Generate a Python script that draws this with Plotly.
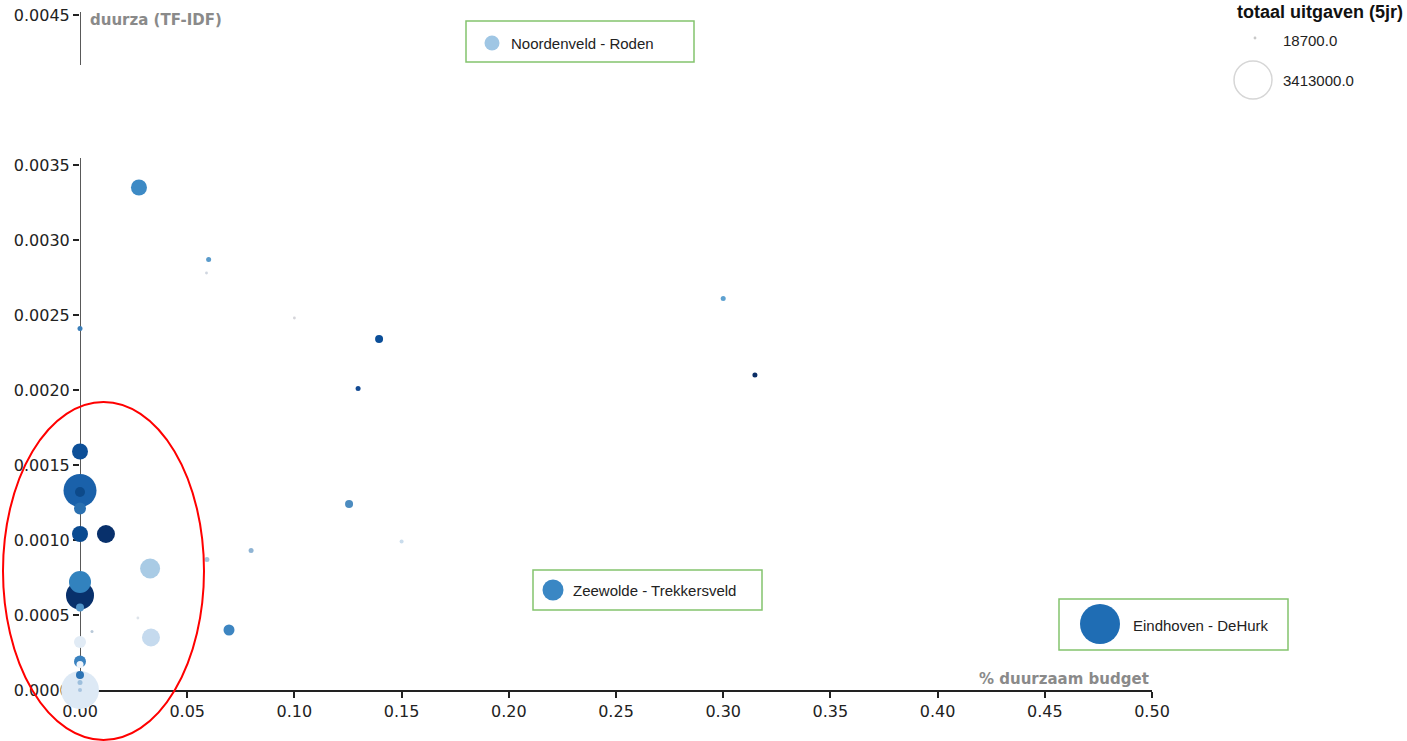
import numpy as np
import plotly.graph_objects as go

# ---------------- data ----------------
duurzaam_budget = [0.0275, 0.060, 0.059, 0.100, 0.000, 0.1395, 0.1297, 0.300, 0.3148,
                   0.1255, 0.150, 0.0798, 0.0592, 0.0695, 0.0327, 0.0331, 0.0121,
                   0.000, 0.000, 0.000, 0.000, 0.000, 0.000, 0.000, 0.000, 0.0056,
                   0.000, 0.000, 0.000, 0.000, 0.000, 0.000, 0.000, 0.027]
duurza_tfidf = [0.00335, 0.00287, 0.00278, 0.00248, 0.00241, 0.00234, 0.00201, 0.00261, 0.00210,
                0.00124, 0.00099, 0.00093, 0.00087, 0.00040, 0.00081, 0.00035, 0.00104,
                0.00104, 0.00159, 0.00133, 0.00132, 0.00121, 0.00072, 0.00063, 0.00055, 0.00039,
                0.00032, 0.00019, 0.00017, 0.00010, 0.00005, 0.00000, 0.00000, 0.00048]
totaal_uitgaven = [605000, 59000, 18700, 18700, 59000, 151000, 59000, 59000, 59000,
                   151000, 38000, 59000, 59000, 286000, 945000, 766000, 766000,
                   605000, 605000, 2574000, 236000, 340000, 1144000, 1853000, 151000, 21300,
                   340000, 340000, 116000, 151000, 59000, 3413000, 38000, 18700]
legend_sizes = [18700, 3413000]
legend_labels = ["18700.0", "3413000.0"]
x_ticks = [0.00, 0.05, 0.10, 0.15, 0.20, 0.25, 0.30, 0.35, 0.40, 0.45, 0.50]
y_ticks = [0.0000, 0.0005, 0.0010, 0.0015, 0.0020, 0.0025, 0.0030, 0.0035, 0.0045]
highlight_labels = ["Noordenveld - Roden", "Zeewolde - Trekkersveld", "Eindhoven - DeHurk"]

# ---------------- styles ----------------
point_colors = ["#3d8ac5", "#5a9bcb", "#d0d6e0", "#d5d5da", "#3b7fba", "#0b4e98", "#134a93", "#5ea1d0", "#0a2e66",
                "#4c8cc0", "#c9dcec", "#8fb4d4", "#a6c4dc", "#3d85c1", "#a9cbe5", "#c5daee", "#08306b",
                "#0a4a90", "#0d4f98", "#1a61aa", "#0d4a8a", "#2a70b0", "#3282be", "#08306b", "#4f93c8", "#b8c8d8",
                "#e1ebf5", "#3a82c0", "#f0f5fb", "#2d74b5", "#9dbfdd", "#dde9f5", "#a8c4e0", "#dde3ea"]

W, H = 1407, 741
MAX_D = 38
# plotly area mode: diameter = sqrt(2*v/sizeref)
sizeref = 2.0 * max(totaal_uitgaven) / MAX_D ** 2

order = np.argsort(-np.array(totaal_uitgaven), kind="stable")
xs = [duurzaam_budget[i] for i in order]
ys = [duurza_tfidf[i] for i in order]
ss = [totaal_uitgaven[i] for i in order]
cs = [point_colors[i] for i in order]

fig = go.Figure()

fig.add_trace(go.Scatter(
    x=xs, y=ys, mode="markers", cliponaxis=False, showlegend=False, hoverinfo="x+y",
    marker=dict(size=ss, sizemode="area", sizeref=sizeref, color=cs, line=dict(width=0), opacity=1),
))

# overlay (pixel coordinate) layer: size legend + highlight boxes
fig.add_trace(go.Scatter(
    x=[1255, 1253], y=[38, 80], xaxis="x3", yaxis="y3", mode="markers", cliponaxis=False,
    showlegend=False, hoverinfo="skip",
    marker=dict(size=legend_sizes, sizemode="area", sizeref=sizeref, opacity=1,
                color=["#c8c8c8", "#ffffff"], line=dict(width=[0, 1.5], color="#d6d6d6")),
))
fig.add_trace(go.Scatter(
    x=[492, 553, 1100], y=[43, 590, 624], xaxis="x3", yaxis="y3", mode="markers", cliponaxis=False,
    showlegend=False, hoverinfo="skip",
    marker=dict(size=[15, 21, 40], color=["#9fc6e4", "#3a87c4", "#1f6db4"], line=dict(width=0),
                opacity=1),
))

shapes = []
# y-axis line (broken)
shapes.append(dict(type="line", xref="x", yref="y", x0=0, x1=0, y0=0, y1=0.003547,
                   line=dict(color="#222", width=1.5), layer="below"))
shapes.append(dict(type="line", xref="x", yref="y", x0=0, x1=0, y0=0.004167, y1=0.00452,
                   line=dict(color="#222", width=1.5), layer="below"))
# highlight boxes
for (x0, y0, x1, y1) in [(466, 21, 694, 62), (533, 570, 762, 610), (1059, 599, 1288, 650)]:
    shapes.append(dict(type="rect", xref="x3", yref="y3", x0=x0, x1=x1, y0=y0, y1=y1,
                       line=dict(color="#84c46e", width=1.5), fillcolor="white", layer="below"))
# red ellipse
shapes.append(dict(type="circle", xref="x3", yref="y3", x0=3, x1=204, y0=402, y1=740,
                   line=dict(color="#ff0000", width=2), layer="above"))

annotations = [
    dict(xref="x3", yref="y3", x=88, y=20, text="<b>duurza (TF-IDF)</b>", showarrow=False,
         xanchor="left", yanchor="middle", font=dict(family="DejaVu Sans", size=15, color="#8a8a8a")),
    dict(xref="x3", yref="y3", x=1151, y=679, text="<b>% duurzaam budget</b>", showarrow=False,
         xanchor="right", yanchor="middle", font=dict(family="DejaVu Sans", size=15, color="#8a8a8a")),
    dict(xref="x3", yref="y3", x=1235, y=12, text="<b>totaal uitgaven (5jr)</b>", showarrow=False,
         xanchor="left", yanchor="middle", font=dict(family="Liberation Sans", size=18, color="#111")),
    dict(xref="x3", yref="y3", x=1281, y=40, text=legend_labels[0], showarrow=False,
         xanchor="left", yanchor="middle", font=dict(family="Liberation Sans", size=15, color="#222")),
    dict(xref="x3", yref="y3", x=1281, y=80, text=legend_labels[1], showarrow=False,
         xanchor="left", yanchor="middle", font=dict(family="Liberation Sans", size=15, color="#222")),
]
for (tx, ty), lab in zip([(509, 43), (571, 590), (1131, 625)], highlight_labels):
    annotations.append(dict(xref="x3", yref="y3", x=tx, y=ty, text=lab, showarrow=False,
                            xanchor="left", yanchor="middle",
                            font=dict(family="Liberation Sans", size=15, color="#222")))

tickfont = dict(family="DejaVu Sans", size=16, color="#222")
fig.update_layout(
    width=W, height=H, autosize=False, margin=dict(l=0, r=0, t=0, b=0, pad=0, autoexpand=False),
    paper_bgcolor="white", plot_bgcolor="rgba(0,0,0,0)",
    xaxis=dict(domain=[80 / W, 1152 / W], range=[0, 0.5], tickvals=x_ticks, tickformat=".2f",
               ticks="outside", ticklen=6, tickwidth=1.5, tickcolor="#222", showline=True,
               linecolor="#222", linewidth=1.5, showgrid=False, zeroline=False, automargin=False,
               layer="below traces", tickfont=tickfont, anchor="y", fixedrange=True),
    yaxis=dict(domain=[51 / H, 729 / H], range=[0, 0.00452], tickvals=y_ticks, tickformat=".4f",
               ticks="outside", ticklen=6, tickwidth=1.5, tickcolor="#222", showline=False,
               showgrid=False, zeroline=False, layer="below traces", tickfont=tickfont, automargin=False,
               anchor="x", fixedrange=True),
    xaxis3=dict(domain=[0, 1], range=[0, W], visible=False, anchor="y3", fixedrange=True, automargin=False),
    yaxis3=dict(domain=[0, 1], range=[H, 0], visible=False, anchor="x3", fixedrange=True, automargin=False),
    shapes=shapes, annotations=annotations,
)

fig.write_html("out.html", config={"displayModeBar": False},
               post_script="document.body.style.margin='0';")
